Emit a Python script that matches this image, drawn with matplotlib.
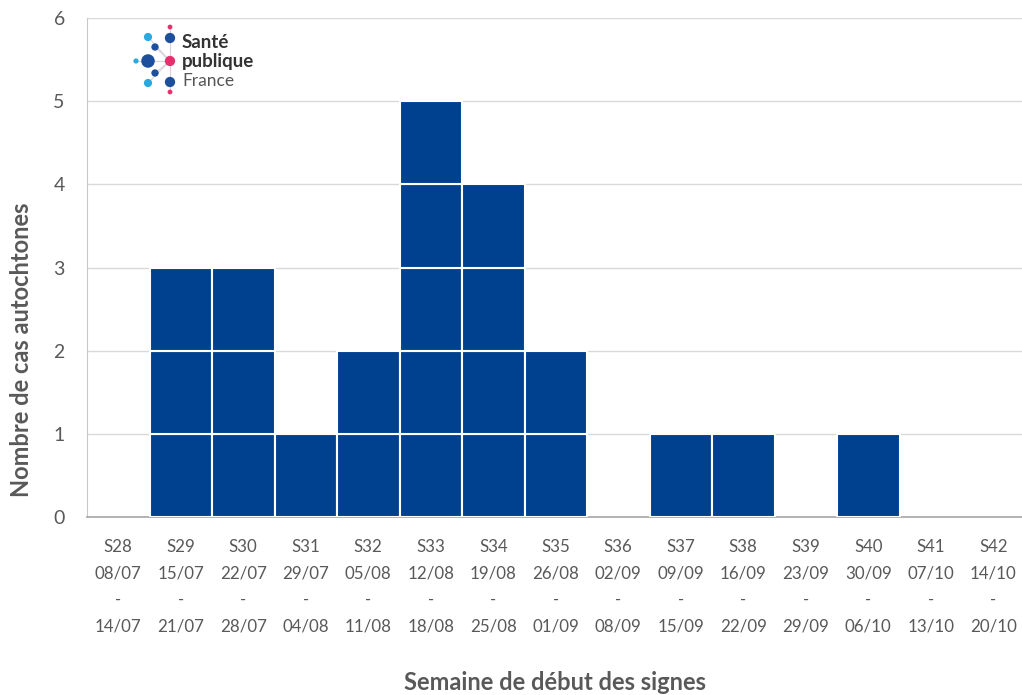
import numpy as np
import matplotlib.pyplot as plt

plt.rcParams['font.family'] = ['Lato', 'DejaVu Sans']

# data
semaines = ['S28', 'S29', 'S30', 'S31', 'S32', 'S33', 'S34', 'S35',
            'S36', 'S37', 'S38', 'S39', 'S40', 'S41', 'S42']
debut = ['08/07', '15/07', '22/07', '29/07', '05/08', '12/08', '19/08', '26/08',
         '02/09', '09/09', '16/09', '23/09', '30/09', '07/10', '14/10']
fin = ['14/07', '21/07', '28/07', '04/08', '11/08', '18/08', '25/08', '01/09',
       '08/09', '15/09', '22/09', '29/09', '06/10', '13/10', '20/10']
cas = [0, 3, 3, 1, 2, 5, 4, 2, 0, 1, 1, 0, 1, 0, 0]

W, H = 1022, 695
fig = plt.figure(figsize=(W / 100, H / 100), dpi=100)
ax = fig.add_axes([87 / W, (H - 517) / H, 937.5 / W, 499 / H])

x = np.arange(len(semaines))
cas = np.array(cas)
# one block per case
for k in range(cas.max()):
    m = cas > k
    ax.bar(x[m], 1, bottom=k, width=1.0, color='#00418f',
           edgecolor='white', linewidth=1.5, zorder=3)

ax.set_xlim(-0.5, len(semaines) - 0.5)
ax.set_ylim(0, 6)
ax.set_yticks(range(7))
ax.yaxis.grid(True, color='#d9d9d9', linewidth=1)
ax.set_axisbelow(True)
for s in ['top', 'right']:
    ax.spines[s].set_visible(False)
ax.spines['left'].set_color('#c8c8c8')
ax.spines['bottom'].set_color('#a6a6a6')
ax.spines['bottom'].set_linewidth(1.2)
ax.tick_params(length=0, colors='#595959')
ax.tick_params(axis='y', pad=16, labelsize=14)
ax.tick_params(axis='x', pad=16, labelsize=12.2)
ax.set_xticks(x)
ax.set_xticklabels([f'{s}\n{d}\n-\n{f}' for s, d, f in zip(semaines, debut, fin)],
                   linespacing=1.8)

fig.text(555 / W, 1 - 683 / H, 'Semaine de début des signes', ha='center', va='center',
         fontsize=17, fontweight='bold', color='#595959')
fig.text(22 / W, 1 - 350 / H, 'Nombre de cas autochtones', ha='center', va='center',
         rotation=90, fontsize=17, fontweight='bold', color='#595959')

# logo Santé publique France
lg = fig.add_axes([0, 0, 1, 1], zorder=5)
lg.set_xlim(0, W)
lg.set_ylim(H, 0)
lg.axis('off')
dots_x = [170, 148, 170, 155, 136, 148, 170, 155, 148, 170, 170]
dots_y = [27, 37, 38, 47, 61, 61, 61, 73, 83, 82, 92]
dots_s = [12, 35, 55, 28, 14, 95, 55, 28, 35, 55, 12]
dots_c = ['#e5306d', '#29a9e0', '#1d4f9c', '#1d4f9c', '#29a9e0', '#1d4f9c',
          '#e5306d', '#1d4f9c', '#29a9e0', '#1d4f9c', '#e5306d']
for xx, yy in zip(dots_x, dots_y):
    lg.plot([170, xx], [61, yy], color='#d9d2dc', linewidth=0.8, zorder=1)
lg.scatter(dots_x, dots_y, s=dots_s, c=dots_c, linewidths=0, zorder=2)
lg.text(182, 42, 'Santé', fontsize=13.5, fontweight='bold', color='#333333', va='center')
lg.text(182, 61, 'publique', fontsize=13.5, fontweight='bold', color='#333333', va='center')
lg.text(182, 81, 'France', fontsize=12.5, color='#555555', va='center')

fig.savefig('out.png', dpi=100)
